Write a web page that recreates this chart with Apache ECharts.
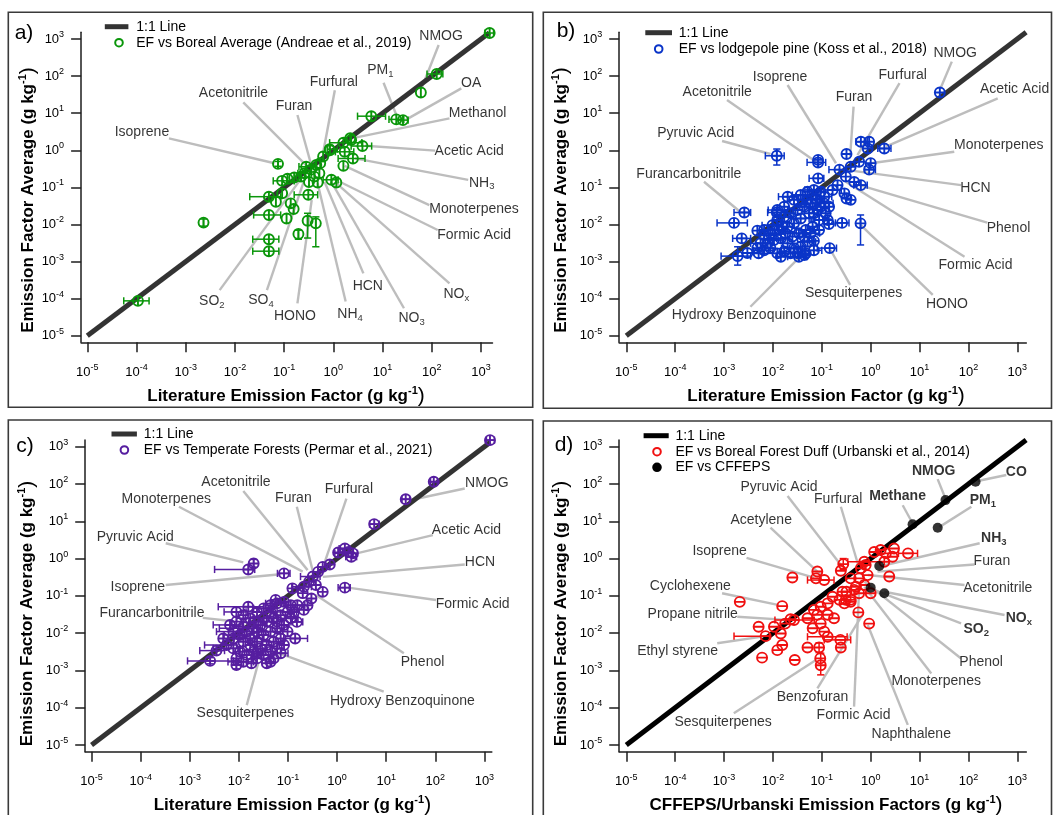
<!DOCTYPE html>
<html><head><meta charset="utf-8">
<script src="https://cdn.jsdelivr.net/npm/echarts@6/dist/echarts.min.js"></script>
<style>html,body{margin:0;padding:0;background:#fff}#c{width:1054px;height:815px}</style>
</head><body><div id="c"></div><script>
// ---------- tick labels ----------
const decades = [-5,-4,-3,-2,-1,0,1,2,3];

// ---------- data: [x, y, xLo, xHi, yLo, yHi] (g/kg) ----------
const ptsA = [
[1500,1450,1200,1800],[126,114,80,168],[60,36],[5.9,8.3,3.1,11.5],[19,6.8,13.5,27],[26,6.5,21,33],
[2.2,2.1],[3.9,1.3,2.3,6.0],[1.6,1.6,0.84,3.8],[2.3,1.9],[0.84,1.07,0.75,1.2],[1.7,0.91,1.1,2.6],
[2.5,0.60,1.25,4.4],[1.6,0.38],[0.62,0.68],[0.075,0.43,null,null,0.37,0.5],
[0.28,0.36,0.2,0.4],[0.35,0.30],[0.45,0.40],[0.52,0.24],[0.26,0.24,0.19,0.36],[0.41,0.195],
[0.32,0.14],[0.48,0.135],[0.22,0.195],[0.16,0.185],[0.117,0.17],[0.091,0.15,0.06,0.16],
[0.91,0.16,0.62,1.25],[1.15,0.135],[0.31,0.063,0.16,0.48],[0.049,0.056,0.020,0.085],
[0.091,0.069],[0.068,0.041],[0.136,0.037],[0.156,0.026],[0.049,0.018,0.024,0.085],
[0.112,0.0145],[0.0023,0.0112,null,null,0.009,0.014],[0.30,0.0126,null,null,0.0043,0.020],
[0.44,0.0107,null,null,0.0025,0.016],[0.195,0.0055,null,null,0.004,0.007],
[0.049,0.004,0.023,0.078],[0.049,0.0019,0.023,0.078],[1.07e-4,8.7e-5,5.5e-5,1.8e-4],
[0.54,0.45],[0.85,1.0]
];
const ptsB = [
[26,36],[0.012,0.71,0.007,0.017,0.40,1.08],[0.0026,0.021,0.0016,0.0035],[0.0016,0.011,7.2e-4,0.003],
[0.0023,0.0042,0.0015,0.0035],[0.0048,0.0068],[0.0019,0.0014,8.7e-4,0.0035,8e-4,0.0025],[0.003,0.0017],
[0.012,0.021,0.0078,0.018],[0.084,0.47,0.05,0.12],[0.084,0.55],[0.084,0.175,0.055,0.11],[0.32,0.79],
[0.63,1.7,0.5,0.85],[0.93,1.7],[1.9,1.12,1.4,2.6],[0.87,1.12],[1.0,0.45],[0.93,0.30,0.75,1.25],
[0.58,0.49],[0.39,0.36],[0.23,0.30,0.14,0.32],[0.31,0.195],[0.46,0.14],[0.63,0.115,0.45,0.85],
[0.29,0.069],[0.39,0.046],[0.32,0.05],[0.26,0.011,0.19,0.36],[0.62,0.0107,null,null,0.0028,0.018],
[0.14,0.0103],[0.088,0.0071],[0.145,0.0023,0.081,0.20],[0.069,0.0036],
[0.020,0.056,0.013,0.030],[0.027,0.046],[0.037,0.062,0.025,0.055],[0.051,0.076],[0.069,0.085,0.045,0.10],
[0.095,0.076],[0.112,0.056,0.08,0.16],[0.081,0.046],[0.059,0.037],[0.044,0.030,0.028,0.065],
[0.032,0.0245],[0.023,0.020],[0.017,0.0162,0.0105,0.026],[0.0123,0.0132],[0.0098,0.0095,0.006,0.015],
[0.0133,0.0071],[0.018,0.0058,0.011,0.028],[0.025,0.0047],[0.034,0.0058],[0.047,0.0071,0.03,0.07],
[0.065,0.0087],[0.088,0.0132,0.06,0.13],[0.12,0.020],[0.112,0.037,0.075,0.17],[0.141,0.030],
[0.081,0.0245],[0.055,0.020],[0.037,0.0145,0.024,0.055],[0.027,0.0107],[0.020,0.0087],
[0.0145,0.0042,0.008,0.022],[0.020,0.0031],[0.027,0.0023,0.015,0.04],[0.037,0.0025],
[0.051,0.0034,0.032,0.075],[0.032,0.00166],[0.023,0.00166,0.014,0.033],[0.017,0.00186],
[0.0123,0.00166,0.006,0.018],[0.0089,0.0023],[0.0066,0.0020,0.004,0.01],[0.0051,0.00166],
[0.0048,0.0023],[0.0078,0.0031],[0.0105,0.0038,0.0065,0.016],[0.0066,0.0051],[0.0089,0.0058],
[0.069,0.020],[0.095,0.030,0.065,0.14],[0.132,0.0132],[0.044,0.0047],[0.059,0.0058,0.04,0.09],
[0.017,0.030],[0.0123,0.0245,0.008,0.02],[0.0098,0.0071],[0.0155,0.0087],[0.051,0.046],
[0.076,0.050],[0.040,0.046],[0.0145,0.00135],[0.034,0.00135,0.02,0.05],[0.047,0.00166],
[0.0066,0.0071],[0.0056,0.0031,0.0035,0.009],[0.069,0.0020,0.045,0.1],[0.044,0.0015],
[0.166,0.085,0.11,0.25],[0.21,0.115]
];
const ptsC = [
[1300,1500,1100,1600],[93,115,80,110],[25,39,21,30],[5.7,8.4,4.6,7.2],[1.44,1.86,1.1,1.8],[1.05,1.46],
[1.95,1.12,1.5,2.5],[1.7,1.5],[2.1,1.38,0.9,2.6],[0.0155,0.51,0.0032,0.021],[0.020,0.74,null,null,0.58,0.95],
[0.083,0.40,0.061,0.11],[0.123,0.159],[1.44,0.166,1.05,1.85],[0.51,0.60],[0.71,0.69],[0.41,0.44],
[0.32,0.33,0.18,0.45],[0.27,0.24],[0.37,0.195],[0.21,0.176,0.12,0.30],[0.51,0.128],[0.20,0.118],
[0.30,0.085],[0.25,0.056],[0.21,0.042],[0.152,0.020,0.115,0.20],[0.14,0.0072,0.082,0.25],
[0.0035,0.0034,0.0016,0.0051],[0.0026,0.0018,0.0009,0.0077,0.0015,0.0022],[0.0089,0.0014,null,null,0.0011,0.0018],
[0.018,0.00155],[0.037,0.00155],[0.0155,0.051,0.0038,0.032],[0.056,0.078],
[0.0089,0.037,0.005,0.014],[0.0123,0.0305],[0.017,0.025,0.009,0.026],[0.0234,0.037],[0.032,0.046,0.02,0.05],
[0.044,0.056],[0.060,0.063,0.035,0.09],[0.083,0.069],[0.114,0.056],[0.098,0.037,0.06,0.15],[0.071,0.0305],
[0.051,0.025],[0.037,0.0204,0.02,0.06],[0.0275,0.0166],[0.020,0.0135,0.004,0.03],[0.0145,0.011],
[0.0105,0.0089,0.005,0.02],[0.0077,0.0072],[0.0066,0.0166,0.003,0.012],[0.0089,0.0204],[0.0123,0.0148],
[0.017,0.0072,0.008,0.03],[0.0234,0.0059],[0.032,0.0089],[0.044,0.011,0.025,0.07],[0.060,0.0135],
[0.083,0.0166],[0.114,0.025,0.07,0.16],[0.098,0.011],[0.071,0.0072],[0.051,0.0059,0.03,0.08],
[0.037,0.0048],[0.0275,0.0039],[0.020,0.0032,0.01,0.03],[0.0145,0.0026],[0.0105,0.0032],
[0.0077,0.0039,0.003,0.012],[0.0056,0.0048,0.002,0.009],[0.0048,0.0072],[0.0089,0.0021],
[0.0123,0.0017,0.006,0.02],[0.0234,0.0021],[0.032,0.0026,0.018,0.05],[0.044,0.0032],[0.060,0.0039],
[0.051,0.0021],[0.071,0.0029,0.045,0.1],[0.083,0.0048],[0.133,0.037],[0.155,0.056,0.1,0.22],
[0.0234,0.011],[0.017,0.0048],[0.0077,0.011,0.0035,0.012],[0.0123,0.0059],[0.044,0.037],[0.032,0.025],
[0.020,0.0204],[0.060,0.0204],[0.0234,0.0029],[0.044,0.0017]
];
const ptsD = [
[0.0021,0.069],[0.0155,0.053],[0.025,0.31],[0.081,0.45],[0.076,0.295],[0.112,0.265,0.051,0.178],
[0.275,0.71,null,null,0.5,1.0],[0.245,0.47],[0.0051,0.0148],[0.0105,0.0148],[0.0145,0.0098],
[0.0071,0.0083,0.0016,0.0085],[0.0155,0.0048],[0.0123,0.0035],[0.006,0.0022],[0.028,0.0019],
[0.051,0.0041],[0.088,0.0041,null,null,0.003,0.0055],[0.093,0.0021],[0.095,0.00138,null,null,7.6e-4,0.0029],
[0.24,0.0066,0.112,0.39],[0.245,0.0041],[0.132,0.008,0.051,0.33],[0.112,0.011],[0.027,0.0225,0.011,0.07],
[0.051,0.025],[0.069,0.042],[0.095,0.051],[0.132,0.063],[0.166,0.095],[0.23,0.078],[0.31,0.078],
[0.39,0.078],[0.32,0.129],[0.46,0.145],[0.178,0.025],[0.132,0.031],[0.095,0.018],[0.081,0.031],
[0.065,0.0135],[0.0178,0.018],[0.023,0.0235],[1.18,1.5],[2.05,1.38],[3.0,1.86],[2.8,1.12],
[5.8,1.38,3.7,9.1],[1.9,0.82],[2.4,0.33],[0.63,0.55],[0.58,0.295],[0.50,0.176],[0.74,0.195],
[0.865,0.36],[0.58,0.117],[1.0,0.117],[0.39,0.069],[0.29,0.063],[0.265,0.129],[0.56,0.036],
[0.93,0.018],[0.39,0.295],[0.79,0.67],[0.74,0.82,0.34,1.9],[1.6,1.7]
];
const ptsDcffeps = [[140,115],[34,37],[7.2,8.3],[23.5,6.7],[1.5,0.63],[1.0,0.166],[1.9,0.118]];

// ---------- annotation layout (log10 units): [label, textX, textY, lineX1, lineY1, lineX2, lineY2, bold] ----------
const annA = [
['NMOG',2.19,3.08,2.14,2.84,1.80,1.70],['PM_1',0.955,2.15,1.02,1.82,1.28,0.95],['OA',2.80,1.80,2.60,1.67,1.47,0.82],
['Methanol',2.93,1.01,2.36,0.86,0.37,0.32],['Acetic Acid',2.76,-0.02,2.07,-0.01,0.645,0.12],
['NH_3',3.015,-0.875,2.74,-0.80,0.44,-0.22],['Monoterpenes',2.86,-1.58,1.95,-1.48,0.23,-0.42],
['Formic Acid',2.86,-2.29,2.12,-2.15,0.13,-0.85],['NO_x',2.50,-3.88,2.36,-3.59,0.03,-0.85],
['NO_3',1.59,-4.53,1.435,-4.26,-0.04,-0.85],['HCN',0.70,-3.66,0.61,-3.32,-0.18,-0.85],
['NH_4',0.34,-4.42,0.25,-4.08,-0.32,-0.89],['HONO',-0.78,-4.46,-0.73,-4.13,-0.44,-1.34],
['SO_4',-1.47,-4.04,-1.35,-3.77,-0.59,-0.80],['SO_2',-2.47,-4.08,-2.31,-3.77,-0.625,-0.71],
['Isoprene',-3.89,0.48,-3.34,0.32,-1.195,-0.35],['Acetonitrile',-2.03,1.53,-1.83,1.29,-0.49,-0.49],
['Furan',-0.80,1.20,-0.73,0.95,-0.44,-0.44],['Furfural',0.01,1.85,0.03,1.62,-0.21,-0.08]
];
const annB = [
['NMOG',1.73,2.63,1.66,2.39,1.43,1.67],['Acetic Acid',2.945,1.64,2.60,1.40,0.31,0.10],
['Monoterpenes',2.62,0.14,1.71,-0.04,0.005,-0.35],['HCN',2.145,-1.03,1.85,-0.94,-0.51,-0.53],
['Phenol',2.82,-2.11,2.385,-1.95,-0.23,-0.94],['Formic Acid',2.145,-3.11,1.92,-2.87,-0.51,-0.85],
['HONO',1.56,-4.155,1.27,-3.90,-0.20,-2.02],['Sesquiterpenes',-0.35,-3.86,-0.42,-3.63,-0.82,-2.69],
['Hydroxy Benzoquinone',-2.59,-4.44,-2.46,-4.22,-1.16,-2.49],['Furancarbonitrile',-3.72,-0.64,-3.41,-0.85,-2.66,-1.67],
['Pyruvic Acid',-3.58,0.47,-3.04,0.25,-2.05,-0.10],['Acetonitrile',-3.14,1.58,-2.94,1.355,-1.12,-0.31],
['Isoprene',-1.855,1.98,-1.70,1.76,-0.71,-0.35],['Furan',-0.34,1.42,-0.35,1.175,-0.42,-0.17],
['Furfural',0.655,2.03,0.59,1.81,-0.27,-0.13]
];
const annC = [
['NMOG',3.05,2.015,2.60,1.88,1.50,1.57],['Acetic Acid',2.635,0.76,1.95,0.63,0.40,0.14],
['HCN',2.91,-0.10,2.60,-0.16,-0.29,-0.49],['Formic Acid',2.76,-1.22,2.015,-1.11,0.225,-0.78],
['Phenol',1.74,-2.77,1.36,-2.54,-0.43,-0.98],['Hydroxy Benzoquinone',1.33,-3.82,0.95,-3.57,-1.255,-2.50],
['Sesquiterpenes',-1.87,-4.15,-1.84,-3.93,-1.60,-2.77],['Furancarbonitrile',-3.77,-1.47,-2.735,-1.59,-2.115,-1.68],
['Isoprene',-4.06,-0.77,-3.49,-0.71,-1.15,-0.42],['Pyruvic Acid',-4.11,0.57,-3.49,0.41,-1.91,-0.10],
['Monoterpenes',-3.48,1.595,-3.22,1.39,-0.70,-0.35],['Acetonitrile',-2.06,2.04,-1.91,1.81,-0.60,-0.31],
['Furan',-0.89,1.61,-0.82,1.39,-0.50,-0.31],['Furfural',0.24,1.85,0.19,1.61,-0.26,-0.13]
];
const annD = [
['CO',2.98,2.33,2.775,2.24,2.19,2.08,1],['NMOG',1.29,2.35,1.37,2.13,1.53,1.61,1],
['Methane',0.55,1.68,0.655,1.43,0.86,0.94,1],['PM_1',2.295,1.57,2.06,1.39,1.41,0.85,1],
['NH_3',2.52,0.54,2.23,0.41,0.21,-0.20,1],['Furan',2.48,-0.06,2.125,-0.16,0.14,-0.35],
['Acetonitrile',2.60,-0.80,1.92,-0.71,-0.06,-0.44],['NO_x',3.03,-1.60,2.74,-1.515,0.28,-0.89,1],
['SO_2',2.16,-1.89,1.85,-1.74,0.07,-0.84,1],['Phenol',2.26,-2.79,1.85,-2.68,-0.13,-0.62],
['Monoterpenes',1.34,-3.30,1.24,-3.08,-0.13,-0.755],['Naphthalene',0.83,-4.705,0.76,-4.46,-0.06,-1.78],
['Formic Acid',-0.35,-4.21,-0.34,-3.97,-0.235,-0.755],['Benzofuran',-1.19,-3.73,-1.09,-3.48,-0.17,-1.51],
['Sesquiterpenes',-3.02,-4.39,-2.80,-4.15,-1.12,-2.72],['Ethyl styrene',-3.95,-2.47,-3.14,-2.27,-2.15,-2.08],
['Propane nitrile',-3.64,-1.50,-2.73,-1.56,-1.64,-1.65],['Cyclohexene',-3.69,-0.74,-3.04,-0.93,-1.875,-1.25],
['Isoprene',-3.09,0.21,-2.54,0.02,-1.16,-0.51],['Acetylene',-2.24,1.03,-2.05,0.83,-1.02,-0.44],
['Pyruvic Acid',-1.875,1.91,-1.70,1.68,-0.61,-0.175],['Furfural',-0.665,1.595,-0.61,1.39,-0.235,-0.26]
];

// ---------- styling / layout ----------
const FONT = '"Liberation Sans", Arial, sans-serif';
const TXT = '#000';
const CIRC = 'M10,0A10,10,0,1,1,10,20A10,10,0,1,1,10,0Z';
const SYM_PHI = 'path://' + CIRC + 'M10,0L10,20';
const SYM_PLUS = 'path://' + CIRC + 'M0,10L20,10M10,0L10,20';
const SYM_MINUS = 'path://' + CIRC + 'M0,10L20,10';

const panels = [
 {pts:ptsA, ann:annA, color:'#0a960a', sym:SYM_PHI, oneEnd:3.17, oneColor:'#333',
  grid:{left:81.1, top:32.3, width:411.4, height:310}, x:[-5.126,3.234], y:[-5.178,3.181],
  frame:[8.3,12.3,524.4,395], letter:['a)',24,33], ytitle:[28.7,200], xtitle:[286,396.7,'Literature Emission Factor'],
  leg:{x1:104.8,x2:128.4,y:26.7,tx:136.2,cx:119,rows:[[42.7,'EF vs Boreal Average (Andreae et al., 2019)','#0a960a',false]]}},
 {pts:ptsB, ann:annB, color:'#0a34c8', sym:SYM_PLUS, oneEnd:3.18, oneColor:'#333',
  grid:{left:619.2, top:32.3, width:407.1, height:310}, x:[-5.145,3.184], y:[-5.178,3.181],
  frame:[543.3,12.3,508.2,396], letter:['b)',566,31], ytitle:[561.7,200], xtitle:[826,396.7,'Literature Emission Factor'],
  leg:{x1:645.3,x2:672,y:32.7,tx:678.7,cx:658.7,rows:[[49,'EF vs lodgepole pine (Koss et al., 2018)','#0a34c8',false]]}},
 {pts:ptsC, ann:annC, color:'#561ea0', sym:SYM_PLUS, oneEnd:3.12, oneColor:'#333',
  grid:{left:85.2, top:440, width:406.6, height:311.7}, x:[-5.13,3.151], y:[-5.18,3.18],
  frame:[8.3,420,524.4,400], letter:['c)',25,446], ytitle:[27,613.5], xtitle:[292.4,805,'Literature Emission Factor'],
  leg:{x1:111.5,x2:136.9,y:434,tx:143.7,cx:124.4,rows:[[450,'EF vs Temperate Forests (Permar et al., 2021)','#561ea0',false]]}},
 {pts:ptsD, ann:annD, color:'#f01010', sym:SYM_MINUS, oneEnd:3.18, oneColor:'#000', extra:ptsDcffeps,
  grid:{left:619.2, top:440, width:407.1, height:311.7}, x:[-5.145,3.184], y:[-5.18,3.18],
  frame:[543.3,421,508.2,400], letter:['d)',564,445], ytitle:[561.7,613.5], xtitle:[826,805,'CFFEPS/Urbanski Emission Factors'],
  leg:{x1:643.6,x2:668.7,y:435.7,tx:675.4,cx:657,rows:[[451.7,'EF vs Boreal Forest Duff (Urbanski et al., 2014)','#f01010',false],[467.3,'EF vs CFFEPS','#000',true]]}}
];

const L = v => Math.log10(v);
const has = v => v !== null && v !== undefined;
const noStroke = {textBorderWidth:0, textBorderColor:'transparent', textShadowBlur:0};
const tickRich = {
  b:Object.assign({fontSize:13, lineHeight:18, fontFamily:FONT, color:TXT}, noStroke),
  s:Object.assign({fontSize:9, lineHeight:8, verticalAlign:'top', fontFamily:FONT, color:TXT}, noStroke)
};
const annRich = {
  r:Object.assign({fontSize:14, lineHeight:18, fontFamily:FONT, color:TXT}, noStroke),
  d:Object.assign({fontSize:9.5, lineHeight:9, verticalAlign:'bottom', fontFamily:FONT, color:TXT}, noStroke),
  rb:Object.assign({fontSize:14, lineHeight:18, fontWeight:'bold', fontFamily:FONT, color:'#000'}, noStroke),
  db:Object.assign({fontSize:9.5, lineHeight:9, fontWeight:'bold', verticalAlign:'bottom', fontFamily:FONT, color:'#000'}, noStroke)
};
function richLabel(s, bold){
  const parts = s.split('_');
  let out = '{' + (bold ? 'rb' : 'r') + '|' + parts[0] + '}';
  if (parts[1]) out += '{' + (bold ? 'db' : 'd') + '|' + parts[1] + '}';
  return out;
}
function errRender(color, horiz){
  return function(params, api){
    const x = api.value(0), y = api.value(1), lo = api.value(2), hi = api.value(3);
    const p1 = horiz ? api.coord([lo, y]) : api.coord([x, lo]);
    const p2 = horiz ? api.coord([hi, y]) : api.coord([x, hi]);
    const c = 3.6, st = {stroke:color, lineWidth:1.5};
    const cap = p => horiz ? {type:'line', shape:{x1:p[0],y1:p[1]-c,x2:p[0],y2:p[1]+c}, style:st}
                           : {type:'line', shape:{x1:p[0]-c,y1:p[1],x2:p[0]+c,y2:p[1]}, style:st};
    return {type:'group', children:[
      {type:'line', shape:{x1:p1[0],y1:p1[1],x2:p2[0],y2:p2[1]}, style:st}, cap(p1), cap(p2)]};
  };
}

const grids=[], xAxes=[], yAxes=[], series=[], graphics=[];
panels.forEach((P, i) => {
  grids.push(Object.assign({containLabel:false, outerBoundsMode:'none'}, P.grid));
  const axCommon = {
    gridIndex:i, type:'value',
    axisLine:{show:true, onZero:false, lineStyle:{color:'#1e1e1e', width:1.5}},
    axisTick:{show:true, inside:false, length:10, customValues:decades, lineStyle:{color:'#1e1e1e', width:1.5}},
    splitLine:{show:false},
    axisLabel:{show:true, customValues:decades, color:TXT, formatter:v => '{b|10}{s|' + Math.round(v) + '}', rich:tickRich}
  };
  xAxes.push(Object.assign({}, axCommon, {position:'bottom', min:P.x[0], max:P.x[1],
    axisLabel:Object.assign({}, axCommon.axisLabel, {margin:21})}));
  yAxes.push(Object.assign({}, axCommon, {position:'left', min:P.y[0], max:P.y[1],
    axisLabel:Object.assign({}, axCommon.axisLabel, {margin:17})}));

  // leader lines
  series.push({type:'custom', xAxisIndex:i, yAxisIndex:i, z:1, silent:true,
    data:P.ann.map(a => [a[3], a[4], a[5], a[6]]),
    renderItem:(params, api) => {
      const s = api.coord([api.value(0), api.value(1)]), e = api.coord([api.value(2), api.value(3)]);
      return {type:'line', shape:{x1:s[0],y1:s[1],x2:e[0],y2:e[1]}, style:{stroke:'#bdbdbd', lineWidth:2.4}};
    }});
  // 1:1 line
  series.push({type:'line', xAxisIndex:i, yAxisIndex:i, z:2, silent:true, symbol:'none',
    data:[[-5,-5],[P.oneEnd,P.oneEnd]], lineStyle:{color:P.oneColor, width:5}});
  // error bars
  const hErr = [], vErr = [];
  P.pts.forEach(p => {
    if (has(p[2])) hErr.push([L(p[0]), L(p[1]), L(p[2]), L(p[3])]);
    if (has(p[4])) vErr.push([L(p[0]), L(p[1]), L(p[4]), L(p[5])]);
  });
  series.push({type:'custom', xAxisIndex:i, yAxisIndex:i, z:3, silent:true, data:hErr, renderItem:errRender(P.color, true)});
  series.push({type:'custom', xAxisIndex:i, yAxisIndex:i, z:3, silent:true, data:vErr, renderItem:errRender(P.color, false)});
  // points
  series.push({type:'scatter', xAxisIndex:i, yAxisIndex:i, z:4, silent:true, symbol:P.sym, symbolSize:10,
    data:P.pts.map(p => [L(p[0]), L(p[1])]),
    itemStyle:{color:'rgba(0,0,0,0)', borderColor:P.color, borderWidth:1.9, opacity:1}});
  if (P.extra) {
    series.push({type:'scatter', xAxisIndex:i, yAxisIndex:i, z:5, silent:true, symbol:'circle', symbolSize:10,
      data:P.extra.map(p => [L(p[0]), L(p[1])]), itemStyle:{color:'#000'}});
  }
  // annotation labels
  series.push({type:'scatter', xAxisIndex:i, yAxisIndex:i, z:6, silent:true, symbolSize:0,
    itemStyle:{color:'rgba(0,0,0,0)'},
    data:P.ann.map(a => ({value:[a[1], a[2]], txt:richLabel(a[0], !!a[7])})),
    label:Object.assign({show:true, position:'inside', color:TXT, formatter:p => p.data.txt, rich:annRich}, noStroke)});

  // frame, letter, titles, legend
  graphics.push({type:'rect', shape:{x:P.frame[0], y:P.frame[1], width:P.frame[2], height:P.frame[3]},
    style:{fill:'none', stroke:'#3a3a3a', lineWidth:1.6}, silent:true});
  graphics.push({type:'text', x:P.letter[1], y:P.letter[2], style:{text:P.letter[0], font:'21px ' + FONT,
    fill:'#000', textAlign:'center', textVerticalAlign:'middle'}});
  const titleRich = {
    t:{fontSize:17, fontWeight:'bold', lineHeight:22, fontFamily:FONT, color:'#000'},
    s:{fontSize:11, fontWeight:'bold', lineHeight:10, verticalAlign:'top', fontFamily:FONT, color:'#000'},
    p:{fontSize:21, lineHeight:22, fontFamily:FONT, color:'#000'}
  };
  graphics.push({type:'text', x:P.ytitle[0], y:P.ytitle[1], rotation:Math.PI/2,
    style:{text:'{t|Emission Factor Average (g kg}{s|-1}{p|)}', rich:titleRich, textAlign:'center', textVerticalAlign:'middle'}});
  graphics.push({type:'text', x:P.xtitle[0], y:P.xtitle[1],
    style:{text:'{t|' + P.xtitle[2] + ' (g kg}{s|-1}{p|)}', rich:titleRich, textAlign:'center', textVerticalAlign:'middle'}});
  const G = P.leg;
  graphics.push({type:'line', shape:{x1:G.x1, y1:G.y, x2:G.x2, y2:G.y}, style:{stroke:P.oneColor, lineWidth:5}});
  graphics.push({type:'text', x:G.tx, y:G.y, style:{text:'1:1 Line', font:'14px ' + FONT, fill:TXT, textVerticalAlign:'middle'}});
  G.rows.forEach(r => {
    graphics.push({type:'circle', shape:{cx:G.cx, cy:r[0], r:3.8},
      style:{fill:r[3] ? r[2] : 'none', stroke:r[2], lineWidth:2}});
    graphics.push({type:'text', x:G.tx, y:r[0], style:{text:r[1], font:'14px ' + FONT, fill:TXT, textVerticalAlign:'middle'}});
  });
});

const chart = echarts.init(document.getElementById('c'), null, {renderer:'canvas'});
chart.setOption({
  animation:false, backgroundColor:'#fff',
  grid:grids, xAxis:xAxes, yAxis:yAxes, series:series, graphic:{elements:graphics}
});
</script></body></html>
